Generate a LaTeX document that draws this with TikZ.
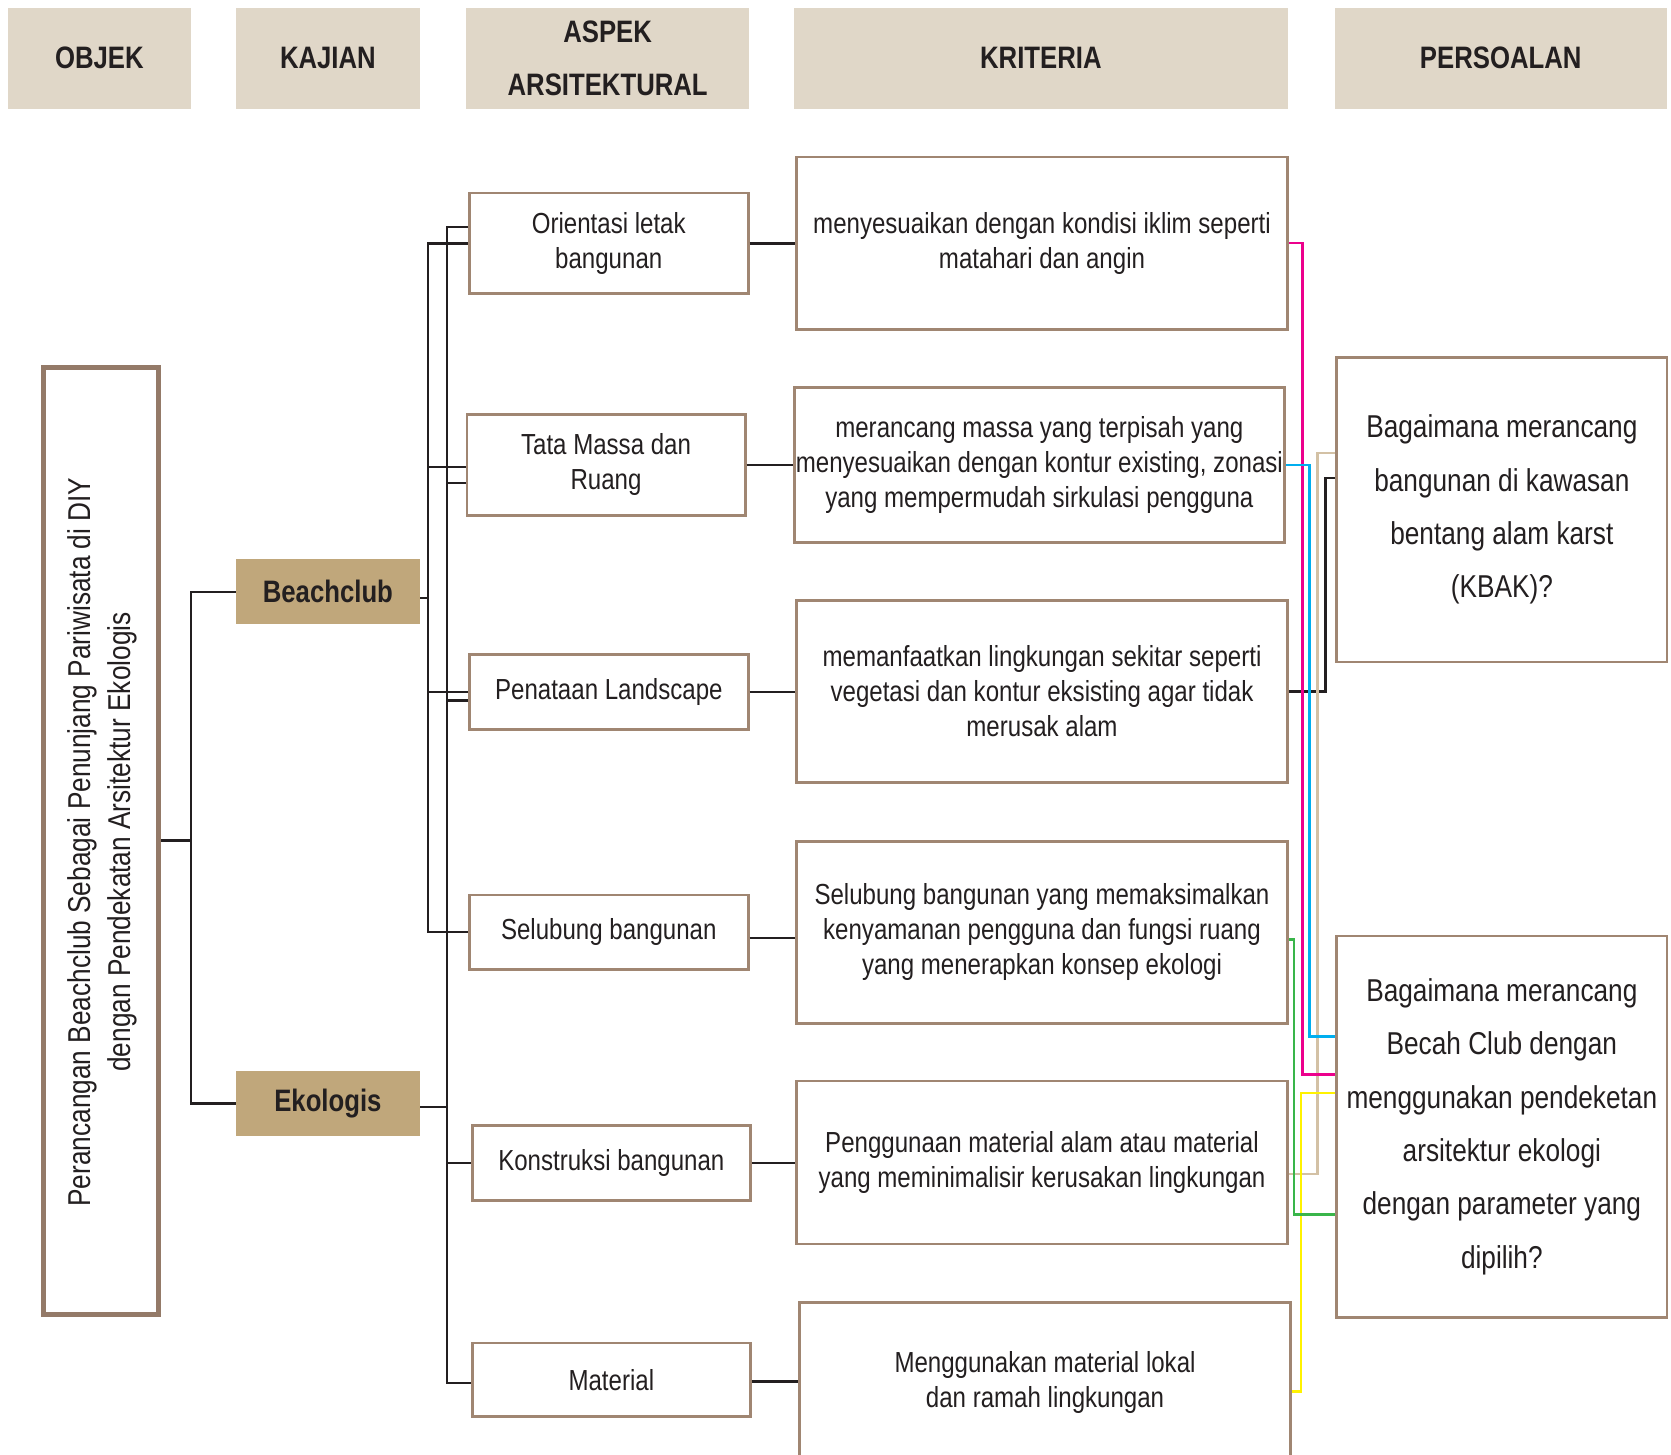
\documentclass[tikz,border=0pt]{standalone}
\usepackage{fontspec}
\setmainfont{Liberation Sans}[FakeStretch=0.83]

\definecolor{hdrfill}{RGB}{224,215,200}
\definecolor{kajfill}{RGB}{192,167,123}
\definecolor{boxline}{RGB}{160,134,114}
\definecolor{objline}{RGB}{148,122,104}
\definecolor{ink}{RGB}{35,31,32}
\definecolor{cpink}{RGB}{236,0,140}
\definecolor{ccyan}{RGB}{0,174,239}
\definecolor{ctan}{RGB}{211,193,165}
\definecolor{cgreen}{RGB}{57,181,74}
\definecolor{cyellow}{RGB}{255,242,0}

\begin{document}
\begin{tikzpicture}[x=1pt,y=-1pt,
  hdr/.style={fill=hdrfill, inner sep=0pt, anchor=north west, align=center,
    text=ink, font=\fontsize{31}{53}\selectfont\bfseries, minimum height=101.2pt},
  kaj/.style={fill=kajfill, inner sep=0pt, anchor=north west, align=center,
    text=ink, font=\fontsize{31}{37}\selectfont\bfseries, minimum width=184.4pt},
  abox/.style={draw=boxline, line width=2.7pt, fill=white, inner sep=0pt,
    anchor=north west, align=center, text=ink, font=\fontsize{29}{35}\selectfont},
  pbox/.style={abox, font=\fontsize{31.6}{53.3}\selectfont},
  plain/.style={align=center, text=ink, font=\fontsize{29}{35}\selectfont},
  link/.style={draw=ink, line width=2.4pt},
  clink/.style={line width=2.5pt}]

\useasboundingbox (0,0) rectangle (1671,1455);

% column headers
\node[hdr, minimum width=183.3pt] (hObj) at (7.5,7.5) {OBJEK};
\node[hdr, minimum width=184.4pt] (hKaj) at (235.5,7.5) {KAJIAN};
\node[hdr, minimum width=283.5pt] (hAsp) at (465.7,7.5) {ASPEK\\ARSITEKTURAL};
\node[hdr, minimum width=493.4pt] (hKri) at (794,7.5) {KRITERIA};
\node[hdr, minimum width=332.5pt] (hPer) at (1334.3,7.5) {PERSOALAN};

% object
\node[draw=objline, line width=5pt, fill=white, inner sep=0pt, anchor=north west,
  minimum width=115.5pt, minimum height=947pt] (obj) at (40.5,364.5) {};
\node[rotate=90, align=center, text=ink, font=\fontsize{31.6}{40.5}\selectfont]
  (objt) at ([xshift=1.5pt, yshift=-1.5pt]obj.center)
  {Perancangan Beachclub Sebagai Penunjang Pariwisata di DIY\\dengan Pendekatan Arsitektur Ekologis};

% kajian
\node[kaj, minimum height=65pt] (bc) at (235.5,559) {Beachclub};
\node[kaj, minimum height=64.7pt] (ek) at (235.5,1071) {Ekologis};

% aspek arsitektural
\node[abox, minimum width=279.2pt, minimum height=100.5pt] (or) at (467.8,191.8) {Orientasi letak\\bangunan};
\node[abox, minimum width=278.4pt, minimum height=100.5pt] (tm) at (465.5,413.4) {Tata Massa dan\\Ruang};
\node[abox, minimum width=279pt, minimum height=75pt] (pl) at (468,653.3) {Penataan Landscape};
\node[abox, minimum width=279.2pt, minimum height=74.5pt] (sl) at (467.8,893.5) {Selubung bangunan};
\node[abox, minimum width=278.4pt, minimum height=74.5pt] (kb) at (470.8,1124.3) {Konstruksi bangunan};
\node[abox, minimum width=278.4pt, minimum height=73.6pt] (mt) at (470.8,1341.7) {Material};

% kriteria
\node[abox, minimum width=491.3pt, minimum height=172.6pt] (k1) at (795,155.6)
  {menyesuaikan dengan kondisi iklim seperti\\matahari dan angin};
\node[abox, minimum width=490.2pt, minimum height=155.6pt] (k2) at (792.9,385.8)
  {merancang massa yang terpisah yang\\menyesuaikan dengan kontur existing, zonasi\\yang mempermudah sirkulasi pengguna};
\node[abox, minimum width=491.3pt, minimum height=182.3pt] (k3) at (795,598.9)
  {memanfaatkan lingkungan sekitar seperti\\vegetasi dan kontur eksisting agar tidak\\merusak alam};
\node[abox, minimum width=491.3pt, minimum height=182.2pt] (k4) at (795,839.8)
  {Selubung bangunan yang memaksimalkan\\kenyamanan pengguna dan fungsi ruang\\yang menerapkan konsep ekologi};
\node[abox, minimum width=491.3pt, minimum height=163pt] (k5) at (795,1079.6)
  {Penggunaan material alam atau material\\yang meminimalisir kerusakan lingkungan};
\node[abox, minimum width=491pt, minimum height=200pt] (k6) at (798.2,1300.8) {};
\node[plain] (k6t) at ([yshift=-81.5pt]k6.north) {Menggunakan material lokal\\dan ramah lingkungan};

% persoalan
\node[pbox, minimum width=330.4pt, minimum height=304.7pt] (p1) at (1335.3,356)
  {Bagaimana merancang\\bangunan di kawasan\\bentang alam karst\\(KBAK)?};
\node[pbox, minimum width=330.4pt, minimum height=381.5pt] (p2) at (1335.3,934.6)
  {Bagaimana merancang\\Becah Club dengan\\menggunakan pendeketan\\arsitektur ekologi\\dengan parameter yang\\dipilih?};

% bus lines
\coordinate (busK) at (191,0);
\coordinate (busO) at (428,0);
\coordinate (busI) at (447,0);

% object to kajian
\draw[link] (obj.east) -- (obj.east -| busK);
\draw[link] (bc.west) -- (bc.west -| busK) -- (ek.west -| busK) -- (ek.west);

% beachclub bus (outer)
\coordinate (bcR) at ([yshift=-6.5pt]bc.east);
\coordinate (tmO) at ([yshift=-2.2pt]tm.west);
\draw[link] (bcR) -- (bcR -| busO);
\draw[link] (or.west) -| (busO |- sl.west) -- (sl.west);
\draw[link] (tmO) -- (tmO -| busO);
\draw[link] (pl.west) -- (pl.west -| busO);

% ekologis bus (inner)
\coordinate (ekR) at ([yshift=-3.6pt]ek.east);
\coordinate (orI) at ([yshift=16.5pt]or.west);
\coordinate (tmI) at ([yshift=-18pt]tm.west);
\coordinate (plI) at ([yshift=-8.2pt]pl.west);
\coordinate (mtI) at ([yshift=-3.2pt]mt.west);
\draw[link] (orI) -| (busI |- mtI) -- (mtI);
\draw[link] (tmI) -- (tmI -| busI);
\draw[link] (plI) -- (plI -| busI);
\draw[link] (ekR) -- (ekR -| busI);
\draw[link] (kb.west) -- (kb.west -| busI);

% aspek to kriteria
\coordinate (slR) at ([yshift=-6pt]sl.east);
\coordinate (mtR) at ([yshift=-1.5pt]mt.east);
\draw[link] (or.east) -- (or.east -| k1.west);
\draw[link] (tm.east) -- (tm.east -| k2.west);
\draw[link] (pl.east) -- (pl.east -| k3.west);
\draw[link] (slR) -- (slR -| k4.west);
\draw[link] (kb.east) -- (kb.east -| k5.west);
\draw[link] (mtR) -- (mtR -| k6.west);

% kriteria to persoalan
\coordinate (vGreen) at (1294,0);
\coordinate (vYellow) at (1301,0);
\coordinate (vPink) at (1302.3,0);
\coordinate (vCyan) at (1309.3,0);
\coordinate (vTan) at (1317.7,0);
\coordinate (vBlack) at (1325.7,0);

\coordinate (pPink) at ([yshift=52.05pt]p2.west);
\coordinate (pCyan) at ([yshift=90pt]p2.west);
\coordinate (pYellow) at ([yshift=33.65pt]p2.west);
\coordinate (pGreen) at ([yshift=-87.95pt]p2.west);
\coordinate (pTan) at ([yshift=56.65pt]p1.west);
\coordinate (pBlack) at ([yshift=31.65pt]p1.west);

\coordinate (k4R) at ([yshift=-7.4pt]k4.east);
\coordinate (k5R) at ([yshift=-11.6pt]k5.east);
\coordinate (k6R) at ([yshift=-90.9pt]k6.north east);

\draw[clink, draw=ink] (k3.east) -| (vBlack |- pBlack) -- (pBlack);
\draw[clink, draw=ctan] (k5R) -| (vTan |- pTan) -- (pTan);
\draw[clink, draw=cpink] (k1.east) -| (vPink |- pPink) -- (pPink);
\draw[clink, draw=ccyan] (k2.east) -| (vCyan |- pCyan) -- (pCyan);
\draw[clink, draw=cyellow] (k6R) -| (vYellow |- pYellow) -- (pYellow);
\draw[clink, draw=cgreen] (k4R) -| (vGreen |- pGreen) -- (pGreen);

\end{tikzpicture}
\end{document}
